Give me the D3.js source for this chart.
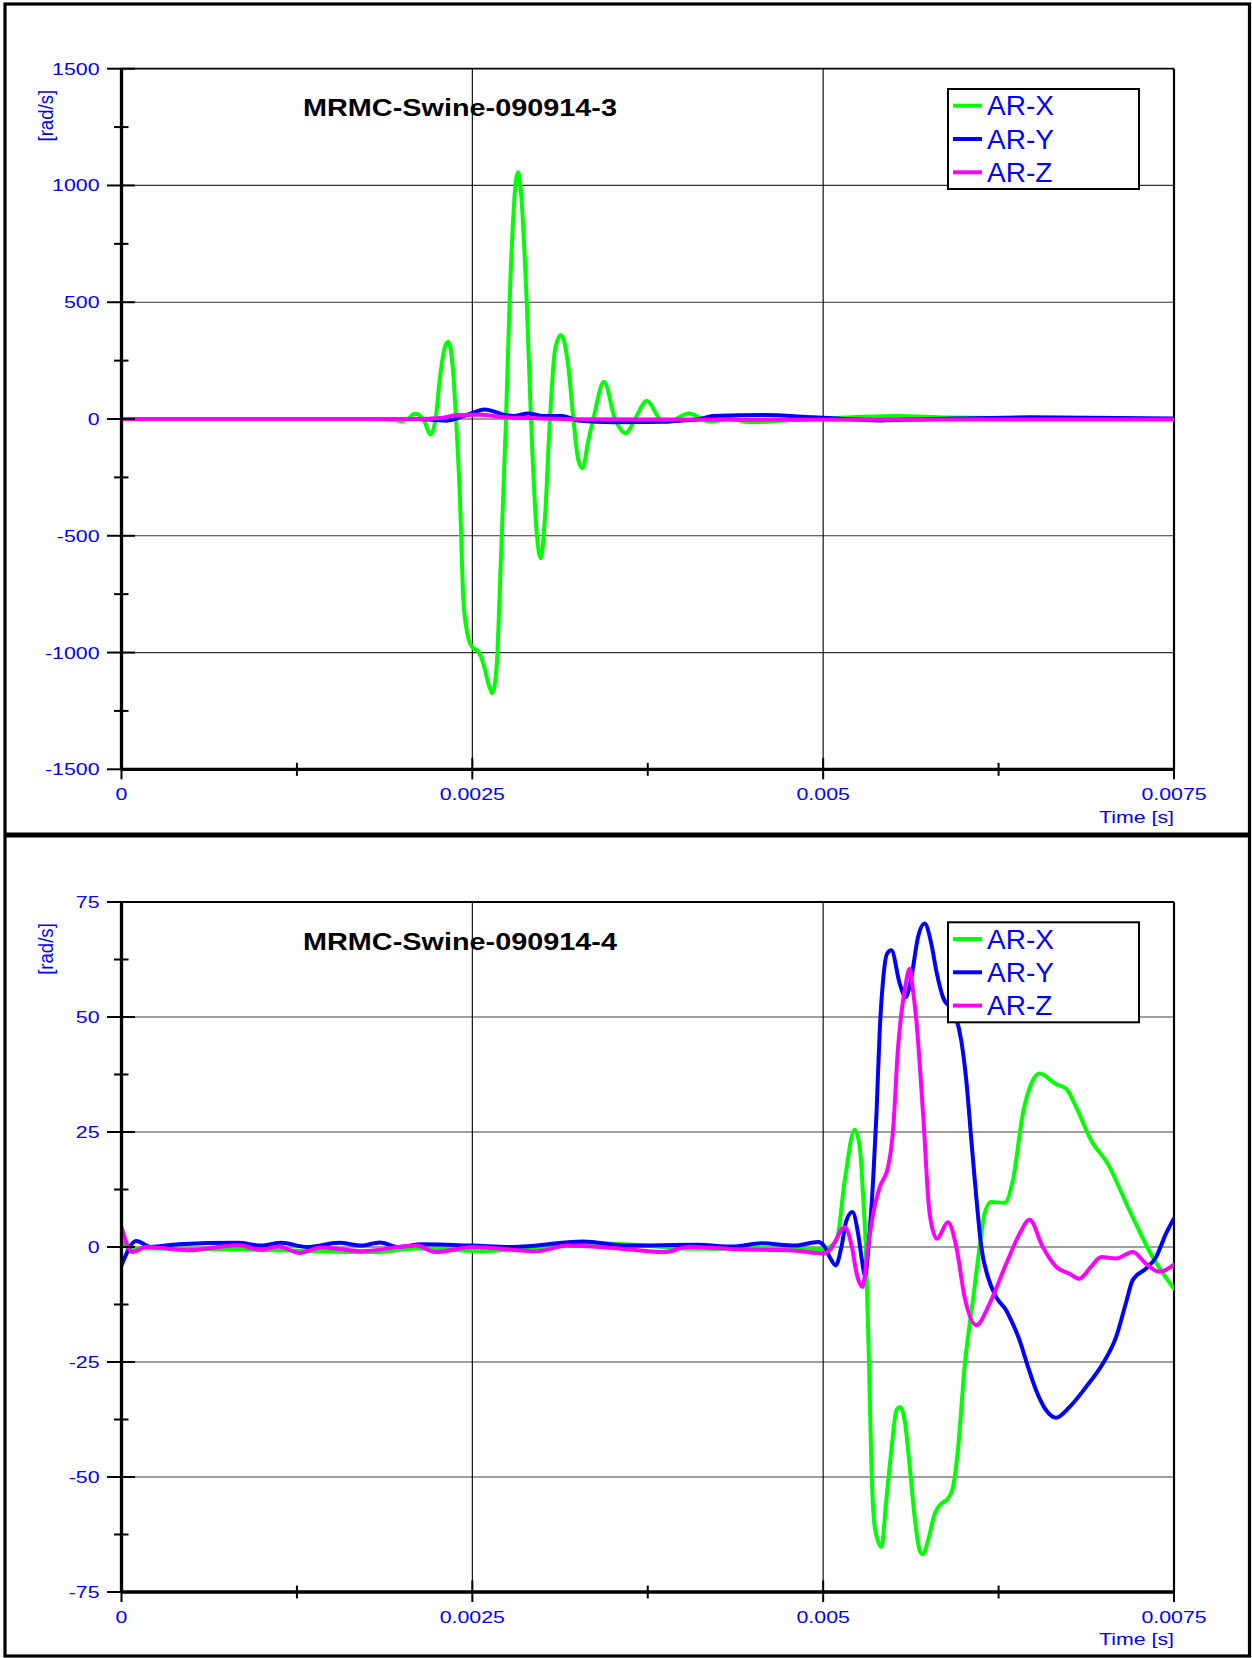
<!DOCTYPE html>
<html><head><meta charset="utf-8">
<script src="https://cdn.jsdelivr.net/npm/d3@7"></script>
<style>
body{margin:0;background:#fff}
svg{display:block}
text{font-family:"Liberation Sans",Arial,sans-serif}
</style>
</head><body>
<script>
// ---------- shared axis data ----------
const xDomain = [0, 0.0075];
const xTicksMajor = [0, 0.0025, 0.005, 0.0075];
const xTicksMinor = [0.00125, 0.00375, 0.00625];
const xTickLabels = ["0", "0.0025", "0.005", "0.0075"];
const xAxisTitle = "Time [s]";
const yAxisTitle = "[rad/s]";
const seriesNames = ["AR-X", "AR-Y", "AR-Z"];
const seriesColors = ["#00ff00", "#0000ff", "#ff00ff"];

// ---------- panel 1 : MRMC-Swine-090914-3 ----------
const p1Title = "MRMC-Swine-090914-3";
const p1YDomain = [-1500, 1500];
const p1YTicks = [-1500, -1000, -500, 0, 500, 1000, 1500];
const p1YMinor = [-1250, -750, -250, 250, 750, 1250];
const p1ARX = [[0,0],[0.0018,0],[0.00195,-4],[0.001995,-10],[0.00204,0],[0.002091,22],[0.00215,0],[0.002203,-66],
  [0.002238,0],[0.00227,181],[0.002305,310],[0.002329,331],[0.00236,224],[0.002384,0],[0.002412,-346],[0.002436,-775],
  [0.002464,-917],[0.002496,-975],[0.002543,-996],[0.002578,-1046],[0.002614,-1132],[0.002642,-1174],[0.002673,-1060],
  [0.0027,-660],[0.00274,0],[0.002766,509],[0.002825,1057],[0.002887,509],[0.002918,0],[0.002959,-489],[0.002987,-596],
  [0.003018,-418],[0.003053,0],[0.003089,295],[0.003132,360],[0.003184,224],[0.00322,0],[0.003255,-175],[0.003286,-211],
  [0.003327,-90],[0.003362,0],[0.003438,160],[0.003517,0],[0.003593,-61],[0.003659,0],[0.003743,77],[0.003837,0],
  [0.00389,-14],[0.004042,24],[0.004194,-11],[0.004336,0],[0.004478,-14],[0.004692,-8],[0.004934,0],[0.00529,10],
  [0.005527,13],[0.00588,6],[0.0065,3],[0.0075,0]];
const p1ARY = [[0,0],[0.0021,0],[0.00223,-4],[0.002317,-7],[0.00246,17],[0.00259,41],[0.00271,21],[0.002792,13],
  [0.002899,24],[0.003006,13],[0.003137,13],[0.003267,-8],[0.003505,-14],[0.003743,-13],[0.00398,-7],[0.004122,0],
  [0.004215,13],[0.004577,17],[0.004934,7],[0.005405,-6],[0.0058,0],[0.00647,7],[0.0075,2]];
const p1ARZ = [[0,0],[0.0021,0],[0.00227,4],[0.002389,17],[0.002555,18],[0.002745,7],[0.002911,4],[0.003267,-1],
  [0.0045,-3],[0.0075,-2]];

// ---------- panel 2 : MRMC-Swine-090914-4 ----------
const p2Title = "MRMC-Swine-090914-4";
const p2YDomain = [-75, 75];
const p2YTicks = [-75, -50, -25, 0, 25, 50, 75];
const p2YMinor = [-62.5, -37.5, -12.5, 12.5, 37.5, 62.5];
const p2ARX = [[0,1.1],[0.00006,-0.3],[0.0003,-0.3],[0.0008,-0.5],[0.00181,-1.1],[0.0021,-0.3],[0.00256,-0.9],
  [0.0029,-0.2],[0.00348,0.7],[0.0041,-0.4],[0.0045,-0.2],[0.0049,-0.5],[0.005,-0.5],[0.005095,1.4],[0.005154,14.5],
  [0.005225,25.5],[0.005261,21.7],[0.005285,10.9],[0.005304,0],[0.005327,-26],[0.005344,-47.8],[0.005368,-60.9],
  [0.005415,-65.2],[0.00545,-55],[0.005486,-44.2],[0.005522,-35.5],[0.00555,-34.8],[0.005581,-37.7],[0.005617,-47.8],
  [0.005652,-58.7],[0.005688,-66],[0.005712,-66.8],[0.005747,-63.8],[0.005795,-58],[0.005842,-55.8],[0.005889,-54.7],
  [0.005925,-52.2],[0.00596,-44.2],[0.006008,-26],[0.006067,-11.6],[0.006115,0],[0.00615,7.2],[0.006197,9.8],
  [0.006293,9.6],[0.006352,14.5],[0.006423,29],[0.006494,36.2],[0.006542,37.7],[0.00666,35.4],[0.006732,34.4],
  [0.006803,30.4],[0.006909,23.2],[0.007028,18.1],[0.007182,8],[0.007348,-2.2],[0.0075,-9.1]];
const p2ARY = [[0,-4],[0.000105,1.3],[0.00021,0],[0.000406,0.6],[0.00083,0.9],[0.000994,0.3],[0.00114,0.9],[0.00132,0],
  [0.00155,0.9],[0.00171,0.3],[0.00184,1.0],[0.00197,0],[0.00214,0.6],[0.0025,0.3],[0.00279,0],[0.00329,1.2],
  [0.0036,0.3],[0.0041,0.5],[0.00435,0.1],[0.00456,0.8],[0.0048,0.3],[0.004964,1.1],[0.005012,0],[0.005047,-2.2],
  [0.00509,-4],[0.00513,0],[0.005166,5.8],[0.005209,7.6],[0.005249,2.9],[0.00528,-3.6],[0.005297,-6.2],[0.005332,3.6],
  [0.005356,14.5],[0.00538,29],[0.005403,47],[0.005427,58],[0.005456,63.8],[0.005486,64.5],[0.005546,57.2],
  [0.005588,54.3],[0.005629,58.7],[0.005676,67.4],[0.005723,70.3],[0.005771,65.9],[0.005806,60.1],[0.005854,54.3],
  [0.005937,50.7],[0.005984,44.9],[0.00602,36.2],[0.006056,23.2],[0.006091,10.9],[0.006127,0],[0.006174,-6.5],
  [0.006233,-10.9],[0.006305,-13.8],[0.006328,-15.2],[0.0064,-20.3],[0.006459,-26],[0.006518,-31.2],[0.006589,-35.5],
  [0.00666,-37.1],[0.006755,-34.8],[0.006874,-30.4],[0.006992,-25.4],[0.007087,-19.6],[0.007159,-12],[0.007206,-7.2],
  [0.0073,-4.7],[0.007372,-2.2],[0.007443,2.9],[0.0075,6.2]];
const p2ARZ = [[0,4.3],[0.000078,-1.1],[0.000175,0],[0.00047,-0.7],[0.00083,0.4],[0.000994,-0.6],[0.00112,0.1],
  [0.00127,-1.3],[0.00142,-0.1],[0.00171,-0.9],[0.0021,0.3],[0.00224,-1.1],[0.0025,0],[0.00296,-0.9],[0.00318,0.3],
  [0.0035,-0.2],[0.00387,-1.1],[0.00404,0],[0.0044,-0.5],[0.0048,-0.8],[0.005,-1.4],[0.005047,-0.7],[0.005154,4.3],
  [0.005205,0],[0.00524,-6],[0.00528,-8.7],[0.00532,0],[0.005356,7.2],[0.005403,13],[0.005463,17.4],[0.005498,25.4],
  [0.005534,43.5],[0.005557,50.7],[0.005581,55.8],[0.005617,60.5],[0.00564,55.8],[0.005664,49.3],[0.005712,29],
  [0.005759,7.2],[0.005811,1.8],[0.005889,5.4],[0.005949,0],[0.006008,-10.9],[0.006091,-17],[0.006186,-12.3],
  [0.006305,-3.6],[0.0064,2.9],[0.006471,5.9],[0.006565,0],[0.00666,-4.3],[0.006755,-5.8],[0.006826,-6.9],
  [0.006909,-4.3],[0.006981,-2.2],[0.007087,-2.5],[0.007206,-1.1],[0.0073,-3.6],[0.007396,-5.4],[0.0075,-3.8]];

// ---------- drawing ----------
const W = 1252, H = 1658;
const svg = d3.select("body").append("svg").attr("width", W).attr("height", H);
svg.append("rect").attr("width", W).attr("height", H).attr("fill", "#fff");

const panels = [
  {title: p1Title, yDomain: p1YDomain, yTicks: p1YTicks, yMinor: p1YMinor, series: [p1ARX, p1ARY, p1ARZ],
   left: 121.5, right: 1174, top: 68.7, bottom: 769.3, gridColor: "#333", gridWidth: 1.2, id: "c1"},
  {title: p2Title, yDomain: p2YDomain, yTicks: p2YTicks, yMinor: p2YMinor, series: [p2ARX, p2ARY, p2ARZ],
   left: 121.5, right: 1174, top: 902, bottom: 1592, gridColor: "#7f7f7f", gridWidth: 1.5, id: "c2"}
];

const TXS = 1.27; // horizontal stretch of the axis texts
const lblColor = "#0000ff";

panels.forEach(p => {
  const g = svg.append("g");
  const x = d3.scaleLinear().domain(xDomain).range([p.left, p.right]);
  const y = d3.scaleLinear().domain(p.yDomain).range([p.bottom, p.top]);

  // title
  g.append("text").attr("x", 303).attr("y", p.top + 47.5)
    .attr("font-size", 23.5).attr("font-weight", "bold").attr("fill", "#000")
    .attr("textLength", 314).attr("lengthAdjust", "spacingAndGlyphs").text(p.title);

  // horizontal gridlines
  g.selectAll(".hg").data(p.yTicks.filter(v => v !== p.yDomain[0] && v !== p.yDomain[1])).enter().append("line")
    .attr("x1", p.left).attr("x2", p.right).attr("y1", d => y(d)).attr("y2", d => y(d))
    .attr("stroke", p.gridColor).attr("stroke-width", p.gridWidth);
  // vertical gridlines
  g.selectAll(".vg").data(xTicksMajor.slice(1, -1)).enter().append("line")
    .attr("x1", d => x(d)).attr("x2", d => x(d)).attr("y1", p.top).attr("y2", p.bottom)
    .attr("stroke", "#000").attr("stroke-width", 1.1);
  // top border + right border
  g.append("line").attr("x1", p.left).attr("x2", p.right).attr("y1", y(p.yDomain[1])).attr("y2", y(p.yDomain[1]))
    .attr("stroke", "#000").attr("stroke-width", 1.8);
  g.append("line").attr("x1", x(xDomain[1])).attr("x2", x(xDomain[1])).attr("y1", p.top).attr("y2", p.bottom)
    .attr("stroke", "#000").attr("stroke-width", 2.2);

  // curves
  svg.append("defs").append("clipPath").attr("id", p.id).append("rect")
    .attr("x", p.left).attr("y", p.top).attr("width", p.right - p.left).attr("height", p.bottom - p.top);
  const line = d3.line().x(d => x(d[0])).y(d => y(d[1])).curve(d3.curveMonotoneX);
  const cg = g.append("g").attr("clip-path", `url(#${p.id})`);
  p.series.forEach((s, i) => {
    cg.append("path").datum(s).attr("d", line).attr("fill", "none")
      .attr("stroke", seriesColors[i]).attr("stroke-width", 4)
      .attr("stroke-linejoin", "round").attr("stroke-linecap", "round");
  });

  // legend
  const lx = 948, ly = p.top + 20.3;
  g.append("rect").attr("x", lx).attr("y", ly).attr("width", 191).attr("height", 100)
    .attr("fill", "#fff").attr("stroke", "#000").attr("stroke-width", 2);
  seriesNames.forEach((n, i) => {
    const cy = ly + 16.7 + i * 33.3;
    g.append("line").attr("x1", lx + 5).attr("x2", lx + 34).attr("y1", cy).attr("y2", cy)
      .attr("stroke", seriesColors[i]).attr("stroke-width", 4);
    g.append("text").attr("x", lx + 39).attr("y", cy + 9.5).attr("font-size", 28)
      .attr("fill", lblColor).text(n);
  });

  // axes lines
  g.append("line").attr("x1", p.left).attr("x2", p.left).attr("y1", p.top).attr("y2", p.bottom)
    .attr("stroke", "#000").attr("stroke-width", 3.3);
  g.append("line").attr("x1", p.left).attr("x2", p.right).attr("y1", p.bottom).attr("y2", p.bottom)
    .attr("stroke", "#000").attr("stroke-width", 3.3);

  // y ticks
  g.selectAll(".ytM").data(p.yTicks).enter().append("line")
    .attr("x1", p.left - 14.5).attr("x2", p.left + 13.5).attr("y1", d => y(d)).attr("y2", d => y(d))
    .attr("stroke", "#000").attr("stroke-width", 2);
  g.selectAll(".ytm").data(p.yMinor).enter().append("line")
    .attr("x1", p.left - 7.5).attr("x2", p.left + 7).attr("y1", d => y(d)).attr("y2", d => y(d))
    .attr("stroke", "#000").attr("stroke-width", 2);
  // x ticks
  g.selectAll(".xtM").data(xTicksMajor).enter().append("line")
    .attr("x1", d => x(d)).attr("x2", d => x(d)).attr("y1", p.bottom - 11.5).attr("y2", p.bottom + 10)
    .attr("stroke", "#000").attr("stroke-width", 2);
  g.selectAll(".xtm").data(xTicksMinor).enter().append("line")
    .attr("x1", d => x(d)).attr("x2", d => x(d)).attr("y1", p.bottom - 6.5).attr("y2", p.bottom + 6.5)
    .attr("stroke", "#000").attr("stroke-width", 2);

  // y labels
  g.selectAll(".yl").data(p.yTicks).enter().append("g")
    .attr("transform", d => `translate(99.5,${y(d) + 6})`)
    .append("text").attr("transform", `scale(${TXS},1)`).attr("text-anchor", "end")
    .attr("font-size", 16.8).attr("fill", lblColor).text(d => String(d));
  // x labels
  g.selectAll(".xl").data(xTicksMajor).enter().append("g")
    .attr("transform", d => `translate(${x(d)},${p.bottom + 30.5})`)
    .append("text").attr("transform", `scale(${TXS},1)`).attr("text-anchor", "middle")
    .attr("font-size", 16.8).attr("fill", lblColor).text((d, i) => xTickLabels[i]);
  // axis titles
  g.append("g").attr("transform", `translate(${p.right},${p.bottom + 53.2})`)
    .append("text").attr("transform", `scale(${TXS},1)`).attr("text-anchor", "end")
    .attr("font-size", 16.8).attr("fill", lblColor).text(xAxisTitle);
  g.append("g").attr("transform", `translate(53,${p.top + 47}) scale(1.1,1) rotate(-90)`)
    .append("text").attr("text-anchor", "middle").attr("font-size", 18.6).attr("fill", lblColor).text(yAxisTitle);
});

// outer frame and separator
svg.append("rect").attr("x", 5).attr("y", 4).attr("width", 1244.5).attr("height", 1652)
  .attr("fill", "none").attr("stroke", "#000").attr("stroke-width", 3.2);
svg.append("line").attr("x1", 5).attr("x2", 1249.5).attr("y1", 835).attr("y2", 835)
  .attr("stroke", "#000").attr("stroke-width", 4.8);
</script>
</body></html>
